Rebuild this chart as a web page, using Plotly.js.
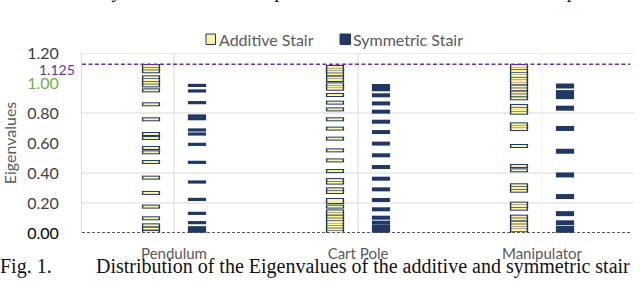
<!DOCTYPE html>
<html>
<head>
<meta charset="utf-8">
<script src="https://cdn.plot.ly/plotly-3.0.1.min.js"></script>
<style>
html,body{margin:0;padding:0;background:#fff;}
#chart{width:640px;height:292px;}
</style>
</head>
<body>
<div id="chart"></div>
<script>
// ---- data ----
var categories = ['Pendulum', 'Cart Pole', 'Manipulator'];
var seriesNames = ['Additive Stair', 'Symmetric Stair'];

var pendulumAdd = [1.113,1.096,1.078,1.038,1.02,1.002,0.984,0.951,0.858,0.758,0.66,0.633,0.567,0.538,0.473,0.369,0.267,0.176,0.098,0.051,0.029,0.007];
var pendulumSym = [0.984,0.947,0.869,0.78,0.762,0.687,0.66,0.591,0.471,0.34,0.224,0.131,0.069,0.035,0.018,0.003];

var cartAdd = [1.107,1.091,1.076,1.058,1.036,1.02,0.991,0.976,0.962,0.92,0.869,0.824,0.758,0.696,0.629,0.551,0.484,0.413,0.353,0.336,0.291,0.273,0.22,0.207,0.176,0.144,0.129,0.109,0.091,0.073,0.058,0.042,0.024,0.007];
var cartSym = [0.98,0.958,0.918,0.864,0.809,0.742,0.673,0.596,0.518,0.44,0.362,0.291,0.22,0.158,0.102,0.069,0.042,0.02,0.002];

var manipAdd = [1.113,1.098,1.08,1.062,1.047,1.029,1.013,0.998,0.976,0.958,0.936,0.918,0.898,0.847,0.829,0.818,0.802,0.724,0.709,0.693,0.58,0.447,0.418,0.318,0.3,0.282,0.196,0.18,0.162,0.109,0.091,0.069,0.051,0.036,0.02,0.002];
var manipSym = [0.98,0.936,0.909,0.832,0.697,0.545,0.387,0.243,0.129,0.068,0.03,0.012];

var yTickVals = [0, 0.2, 0.4, 0.6, 0.8, 1.0, 1.2];
var yTickText = ['<span style="color:#000000">0.00</span>','0.20','0.40','0.60','0.80','<span style="color:#70AD47">1.00</span>','1.20'];
var gridVals = [0.2, 0.4, 0.8, 1.2];
var refLimit = 1.125;
var refLimitLabel = '1.125';
var zeroLine = 0;
var caption = ['Fig. 1.', 'Distribution of the Eigenvalues of the additive and symmetric stair'];
var topText = 'ues of the newly reduced stair at the points are listed in three cases and the plot shows the limit';

// ---- styles ----
var NAVY = '#1F3864';
var YELLOW = '#FFF3A6';
var FONT = 'Lato, "Open Sans", sans-serif';
var SERIF = '"Liberation Serif", "Times New Roman", serif';
var OFF = 0.125;

var addSets = [pendulumAdd, cartAdd, manipAdd];
var symSets = [pendulumSym, cartSym, manipSym];
var symWidths = [3.2, 4, 5];

var traces = [];
function xs(arr, pos){ return arr.map(function(){ return pos; }); }
for (var i = 0; i < categories.length; i++) {
  traces.push({type:'scatter', mode:'markers', name:seriesNames[0], showlegend:false, hoverinfo:'y',
    x: xs(addSets[i], i - OFF), y: addSets[i],
    marker:{symbol:'line-ew', size:13, line:{color:NAVY, width:4}}});
  traces.push({type:'scatter', mode:'markers', name:seriesNames[0], showlegend:false, hoverinfo:'y',
    x: xs(addSets[i], i - OFF), y: addSets[i],
    marker:{symbol:'line-ew', size:11, line:{color:YELLOW, width:2}}});
  traces.push({type:'scatter', mode:'markers', name:seriesNames[1], showlegend:false, hoverinfo:'y',
    x: xs(symSets[i], i + OFF), y: symSets[i],
    marker:{symbol:'line-ew', size:13, line:{color:NAVY, width:symWidths[i]}}});
}

var shapes = [];
gridVals.forEach(function(v){
  shapes.push({type:'line', xref:'paper', x0:0, x1:1, yref:'y', y0:v, y1:v, line:{color:'#D9D9D9', width:1}, layer:'below'});
});
var vColors = ['#D9D9D9', '#D9D9D9', '#F0F0F0'];
categories.forEach(function(c, i){
  shapes.push({type:'line', xref:'x', x0:i, x1:i, yref:'paper', y0:0, y1:1, line:{color:vColors[i], width:1}, layer:'below'});
});
shapes.push({type:'line', xref:'paper', x0:0, x1:0.993, yref:'y', y0:refLimit, y1:refLimit, line:{color:'#7030A0', width:1.3, dash:'4px,2.5px'}});
shapes.push({type:'line', xref:'paper', x0:0, x1:0.993, yref:'y', y0:zeroLine, y1:zeroLine, line:{color:'#595959', width:2, dash:'3px,2px'}});

// legend swatches (pixel -> paper conversions)
var PL = 82, PW = 552, PT = 53, PH = 180;
function px(X){ return (X - PL) / PW; }
function py(Y){ return (PT + PH - Y) / PH; }
shapes.push({type:'rect', xref:'paper', yref:'paper', x0:px(206), x1:px(215.5), y0:py(44.5), y1:py(34), fillcolor:YELLOW, line:{color:NAVY, width:1}});
shapes.push({type:'rect', xref:'paper', yref:'paper', x0:px(340), x1:px(350.5), y0:py(44.5), y1:py(34), fillcolor:NAVY, line:{color:NAVY, width:1}});

var annotations = [
  {xref:'paper', yref:'paper', x:px(217), y:py(39.5), xanchor:'left', yanchor:'middle', text:seriesNames[0], showarrow:false, font:{family:FONT, size:16, color:'#595959'}},
  {xref:'paper', yref:'paper', x:px(350.5), y:py(39.5), xanchor:'left', yanchor:'middle', text:seriesNames[1], showarrow:false, font:{family:FONT, size:16, color:'#595959'}},
  {xref:'paper', yref:'y', x:px(77), y:refLimit, yshift:-5, xanchor:'right', yanchor:'middle', text:refLimitLabel, showarrow:false, font:{family:FONT, size:14, color:'#7030A0'}},
  {xref:'paper', yref:'paper', x:px(-2), y:py(266.5), xanchor:'left', yanchor:'middle', text:caption[0], showarrow:false, font:{family:SERIF, size:20, color:'#111'}},
  {xref:'paper', yref:'paper', x:px(94), y:py(266.5), xanchor:'left', yanchor:'middle', text:caption[1], showarrow:false, font:{family:SERIF, size:20, color:'#111'}},
  {xref:'paper', yref:'paper', x:px(-6), y:py(4), xanchor:'left', yanchor:'bottom', text:topText, showarrow:false, font:{family:SERIF, size:19, color:'#111'}}
];

var layout = {
  width:640, height:292,
  margin:{l:PL, r:640-PL-PW, t:PT, b:292-PT-PH, pad:0},
  paper_bgcolor:'#fff', plot_bgcolor:'#fff',
  showlegend:false,
  xaxis:{range:[-0.5, 2.5], tickvals:[0,1,2], ticktext:categories, showgrid:false, zeroline:false, showline:false,
    ticks:'outside', ticklen:7, tickcolor:'rgba(0,0,0,0)', tickfont:{family:FONT, size:15, color:'#595959'}, fixedrange:true},
  yaxis:{range:[0, 1.2], tickvals:yTickVals, ticktext:yTickText, showgrid:false, zeroline:false,
    showline:true, linecolor:'#D9D9D9', linewidth:1,
    ticks:'outside', ticklen:19, tickcolor:'rgba(0,0,0,0)', tickfont:{family:FONT, size:16, color:'#404040'},
    title:{text:'Eigenvalues', font:{family:FONT, size:16, color:'#595959'}, standoff:8}, fixedrange:true},
  shapes:shapes,
  annotations:annotations
};

Plotly.newPlot('chart', traces, layout, {displayModeBar:false, staticPlot:true});
</script>
</body>
</html>
